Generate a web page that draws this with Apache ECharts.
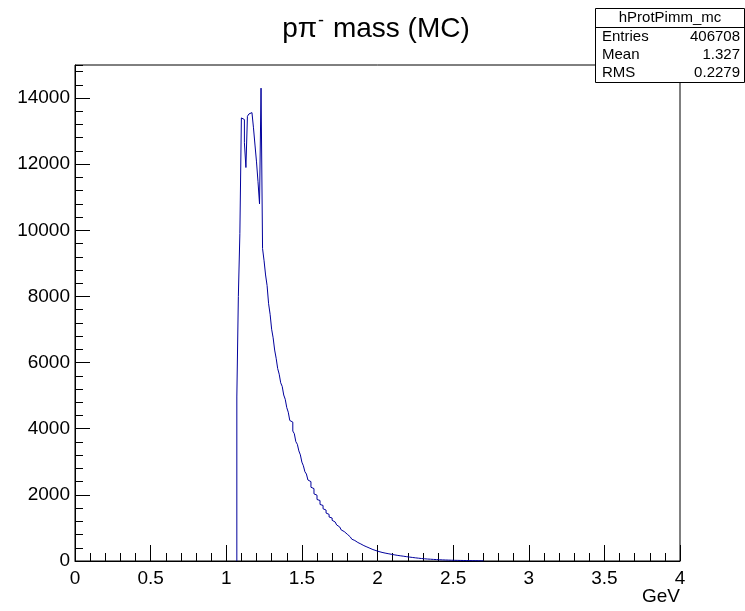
<!DOCTYPE html>
<html>
<head>
<meta charset="utf-8">
<script src="https://cdn.jsdelivr.net/npm/echarts@6/dist/echarts.min.js"></script>
<style>
html,body{margin:0;padding:0;background:#fff;}
#c{width:745px;height:611px;}
</style>
</head>
<body>
<div id="c"></div>
<script>
// Histogram: bins of 0.01 GeV, first non-empty bin starts at 1.07 GeV
var binStart = 1.07;
var binWidth = 0.01;
var counts = [
4960, 8000, 9900, 13400, 13350, 12650, 11900, 13450, 13520, 13560,
13600, 13100, 12580, 12070, 11470, 10800, 14300, 9450, 9080, 8650,
8330, 7780, 7460, 7010, 6750, 6380, 6130, 5820, 5650, 5390,
5280, 5020, 4890, 4640, 4500, 4250, 4200, 3930, 3850, 3610,
3530, 3330, 3210, 2990, 2880, 2700, 2630, 2450, 2400, 2230,
2190, 2030, 1990, 1860, 1830, 1710, 1680, 1580, 1540, 1450,
1410, 1330, 1300, 1230, 1180, 1130, 1090, 1030, 1000, 940,
890, 830, 810, 750, 730, 690, 660, 620, 600, 560,
555, 515, 505, 465, 460, 425, 420, 385, 380, 345,
350, 315, 315, 285, 290, 260, 262, 240, 238, 222,
215, 205, 200, 188, 185, 172, 170, 158, 155, 146,
138, 132, 124, 120, 112, 108, 101, 96, 90, 86,
79, 76, 71, 68, 62, 60, 56, 54, 50, 48,
44, 43, 40, 38, 35, 34, 31, 30, 28, 27,
25, 24, 22, 21, 20, 19, 17, 17, 15, 15,
14, 13, 12, 12, 11, 10, 9, 9, 8, 8,
7, 6, 6
];
var xTicks = ['0','0.5','1','1.5','2','2.5','3','3.5','4'];
var yTicks = ['0','2000','4000','6000','8000','10000','12000','14000'];
var statsName = 'hProtPimm_mc';
var statsRows = [['Entries','406708'],['Mean','1.327'],['RMS','0.2279']];

// histogram outline: each bin contributes its lower and upper edge at its count
var pts = [[+binStart.toFixed(2), 0]];
for (var i = 0; i < counts.length; i++) {
  var lo = +(binStart + i * binWidth).toFixed(2);
  var hi = +(binStart + (i + 1) * binWidth).toFixed(2);
  pts.push([lo, counts[i]]);
  pts.push([hi, counts[i]]);
}
pts.push([+(binStart + counts.length * binWidth).toFixed(2), 0]);

var FONT = '"Liberation Sans", Arial, Helvetica, sans-serif';
var chart = echarts.init(document.getElementById('c'), null, {renderer:'canvas'});

var graphics = [
  {type:'text', x: 376, y: 29, z: 10,
   style:{text:'{t|pπ}{s|-}{t| mass (MC)}', textAlign:'center', textVerticalAlign:'middle',
     rich:{ t:{fontFamily:FONT, fontSize:28, fill:'#000', lineHeight:34},
            s:{fontFamily:FONT, fontSize:18, fill:'#000', verticalAlign:'top', lineHeight:34, padding:[0,1,0,1]} }}},
  {type:'rect', z: 10, shape:{x:595.5, y:8.5, width:149, height:74}, style:{fill:'#fff', stroke:'#000', lineWidth:1}},
  {type:'line', z: 11, shape:{x1:595.5, y1:27.5, x2:744.5, y2:27.5}, style:{stroke:'#000', lineWidth:1}},
  {type:'text', z: 11, x: 670, y: 18, style:{text:statsName, font:'15px '+FONT, fill:'#000', textAlign:'center', textVerticalAlign:'middle'}},
  {type:'text', z: 11, x: 680, y: 597, style:{text:'GeV', font:'19px '+FONT, fill:'#000', textAlign:'right', textVerticalAlign:'middle'}}
];
for (var r = 0; r < statsRows.length; r++) {
  graphics.push({type:'text', z: 11, x: 602, y: 37 + r*18, style:{text:statsRows[r][0], font:'15px '+FONT, fill:'#000', textAlign:'left', textVerticalAlign:'middle'}});
  graphics.push({type:'text', z: 11, x: 740, y: 37 + r*18, style:{text:statsRows[r][1], font:'15px '+FONT, fill:'#000', textAlign:'right', textVerticalAlign:'middle'}});
}

chart.setOption({
  animation: false,
  backgroundColor: '#fff',
  grid: {left: 75, right: 65, top: 65, bottom: 50, show: true, borderColor: '#000', borderWidth: 1, backgroundColor: 'transparent'},
  xAxis: {
    type: 'value', min: 0, max: 4, interval: 0.5,
    axisLine: {show: true, onZero: false, lineStyle: {color: '#000', width: 1}},
    axisTick: {show: true, inside: true, length: 16, lineStyle: {color: '#000'}},
    minorTick: {show: true, splitNumber: 5, length: 8, lineStyle: {color: '#000'}},
    splitLine: {show: false},
    axisLabel: {color: '#000', fontFamily: FONT, fontSize: 19, margin: 8,
      formatter: function (v) { var k = Math.round(v / 0.5); return xTicks[k] !== undefined ? xTicks[k] : ''; }}
  },
  yAxis: [{
    type: 'value', min: 0, max: 15000, interval: 2000,
    axisLine: {show: true, onZero: false, lineStyle: {color: '#000', width: 1}},
    axisTick: {show: true, inside: true, length: 15, lineStyle: {color: '#000'}},
    splitLine: {show: false},
    axisLabel: {color: '#000', fontFamily: FONT, fontSize: 19, margin: 5, showMaxLabel: false,
      formatter: function (v) { var k = Math.round(v / 2000); return yTicks[k] !== undefined ? yTicks[k] : ''; }}
  }, {
    type: 'value', min: 0, max: 15000, interval: 400, position: 'left', offset: 0,
    axisLine: {show: false},
    axisTick: {show: true, inside: true, length: 8, lineStyle: {color: '#000'}},
    splitLine: {show: false},
    axisLabel: {show: false}
  }],
  series: [{
    type: 'line', data: pts, showSymbol: false, symbol: 'none',
    yAxisIndex: 0,
    lineStyle: {color: '#00009c', width: 1},
    itemStyle: {color: '#00009c'},
    z: 2
  }],
  graphic: graphics
});
</script>
</body>
</html>
